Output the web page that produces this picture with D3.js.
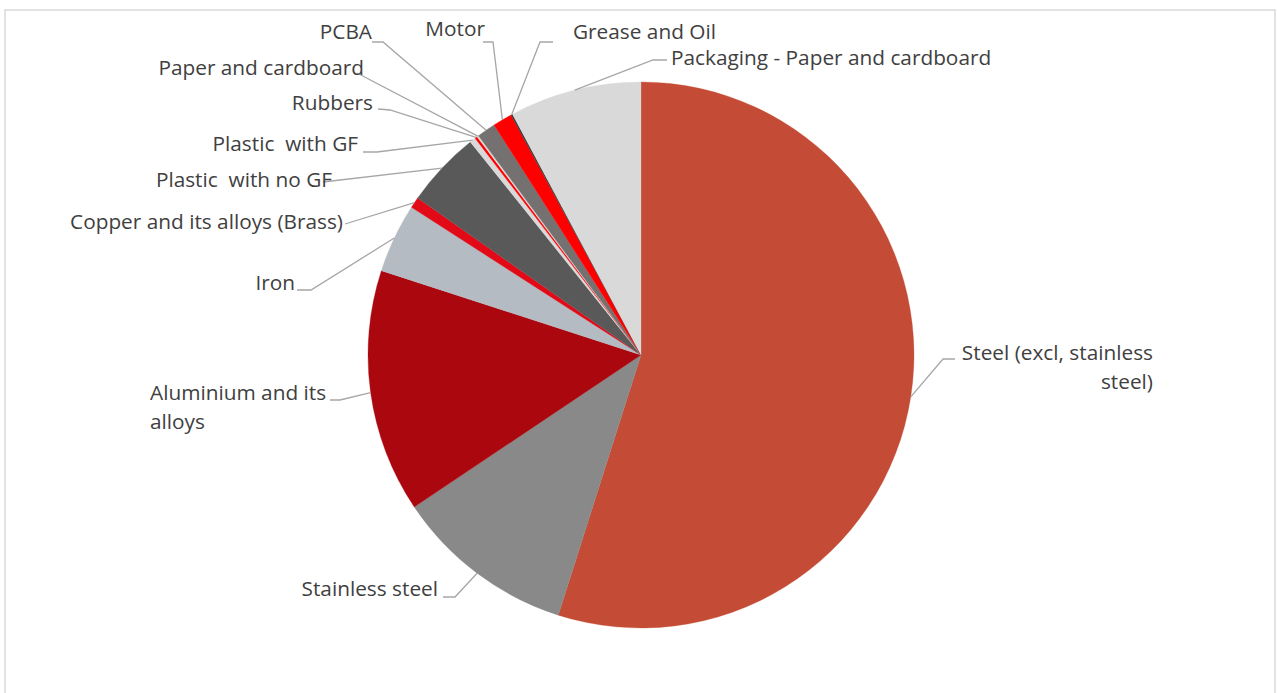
<!DOCTYPE html>
<html>
<head>
<meta charset="utf-8">
<script src="https://cdn.jsdelivr.net/npm/d3@7"></script>
<style>
  html, body { margin: 0; padding: 0; background: #fff; }
  svg { display: block; }
  text { font-family: "Open Sans", Lato, sans-serif; fill: #404040; white-space: pre; }
</style>
</head>
<body>
<svg id="chart" width="1277" height="693"></svg>
<script>
// ---- data ----
const categories = [
  "Steel (excl, stainless steel)",
  "Stainless steel",
  "Aluminium and its alloys",
  "Iron",
  "Copper and its alloys (Brass)",
  "Plastic  with no GF",
  "Plastic  with GF",
  "Rubbers",
  "Paper and cardboard",
  "PCBA",
  "Motor",
  "Grease and Oil",
  "Packaging - Paper and cardboard"
];
const values = [54.9, 10.7, 14.4, 4.1, 0.65, 4.5, 0.35, 0.15, 0.1, 1.1, 1.15, 0.1, 7.8];
const colors = ["#C44B35", "#898989", "#AA070F", "#B4BBC2", "#E20A17", "#595959",
                "#D9D9D9", "#FF0000", "#D9D9D9", "#767171", "#FF0000", "#3B3838", "#D9D9D9"];

// ---- layout (label placement) ----
const labelLayout = [
  {lines: ["Steel (excl, stainless", "steel)"], x: 1153, y: 360, anchor: "end", path: [[955, 359], [943, 359]]},
  {lines: ["Stainless steel"], x: 438, y: 596, anchor: "end", path: [[443, 597], [455, 597]]},
  {lines: ["Aluminium and its", "alloys"], x: 150, y: 400, anchor: "start", path: [[330, 400], [340, 400]]},
  {lines: ["Iron"], x: 295, y: 290, anchor: "end", path: [[297, 290], [311, 290]]},
  {lines: ["Copper and its alloys (Brass)"], x: 343, y: 229, anchor: "end", path: [[345, 224]]},
  {lines: ["Plastic  with no GF"], x: 332, y: 187, anchor: "end", path: [[323, 182]]},
  {lines: ["Plastic  with GF"], x: 358, y: 151, anchor: "end", path: [[363, 152], [377, 152]]},
  {lines: ["Rubbers"], x: 373, y: 110, anchor: "end", path: [[378, 109], [390, 110]]},
  {lines: ["Paper and cardboard"], x: 364, y: 75, anchor: "end", path: [[357, 73]]},
  {lines: ["PCBA"], x: 372, y: 39, anchor: "end", path: [[372, 42], [383, 42]]},
  {lines: ["Motor"], x: 485, y: 36, anchor: "end", path: [[483, 42], [493, 42]]},
  {lines: ["Grease and Oil"], x: 573, y: 39, anchor: "start", path: [[553, 42], [540, 42]]},
  {lines: ["Packaging - Paper and cardboard"], x: 671, y: 65, anchor: "start", path: [[667, 60], [653, 60]]}
];

const cx = 641, cy = 355, R = 273;
const fontSize = 20.8, lineGap = 29;

const svg = d3.select("#chart");

// frame
svg.append("rect")
  .attr("x", 5).attr("y", 10)
  .attr("width", 1270).attr("height", 700)
  .attr("fill", "none").attr("stroke", "#D9D9D9").attr("stroke-width", 1.5);

const data = categories.map((c, i) => ({name: c, value: values[i], color: colors[i], layout: labelLayout[i]}));

const pie = d3.pie().value(d => d.value).sort(null);
const arcs = pie(data);
const arc = d3.arc().innerRadius(0).outerRadius(R);

const g = svg.append("g").attr("transform", `translate(${cx},${cy})`);
g.selectAll("path.slice")
  .data(arcs)
  .join("path")
  .attr("class", "slice")
  .attr("d", arc)
  .attr("fill", d => d.data.color)
  .attr("stroke", d => d.data.color)
  .attr("stroke-width", 0.3);

// leader lines
const line = d3.line();
svg.selectAll("path.leader")
  .data(arcs)
  .join("path")
  .attr("class", "leader")
  .attr("d", d => {
    const a = (d.startAngle + d.endAngle) / 2;
    const pt = [cx + R * Math.sin(a), cy - R * Math.cos(a)];
    return line([...d.data.layout.path, pt]);
  })
  .attr("fill", "none")
  .attr("stroke", "#A6A6A6")
  .attr("stroke-width", 1.3);

// labels
const labels = svg.selectAll("text.lbl")
  .data(arcs)
  .join("text")
  .attr("class", "lbl")
  .attr("x", d => d.data.layout.x)
  .attr("y", d => d.data.layout.y)
  .attr("text-anchor", d => d.data.layout.anchor)
  .style("font-size", fontSize + "px");
labels.each(function(d) {
  d3.select(this).selectAll("tspan")
    .data(d.data.layout.lines)
    .join("tspan")
    .attr("x", d.data.layout.x)
    .attr("dy", (t, i) => i === 0 ? 0 : lineGap)
    .text(t => t);
});
</script>
</body>
</html>
